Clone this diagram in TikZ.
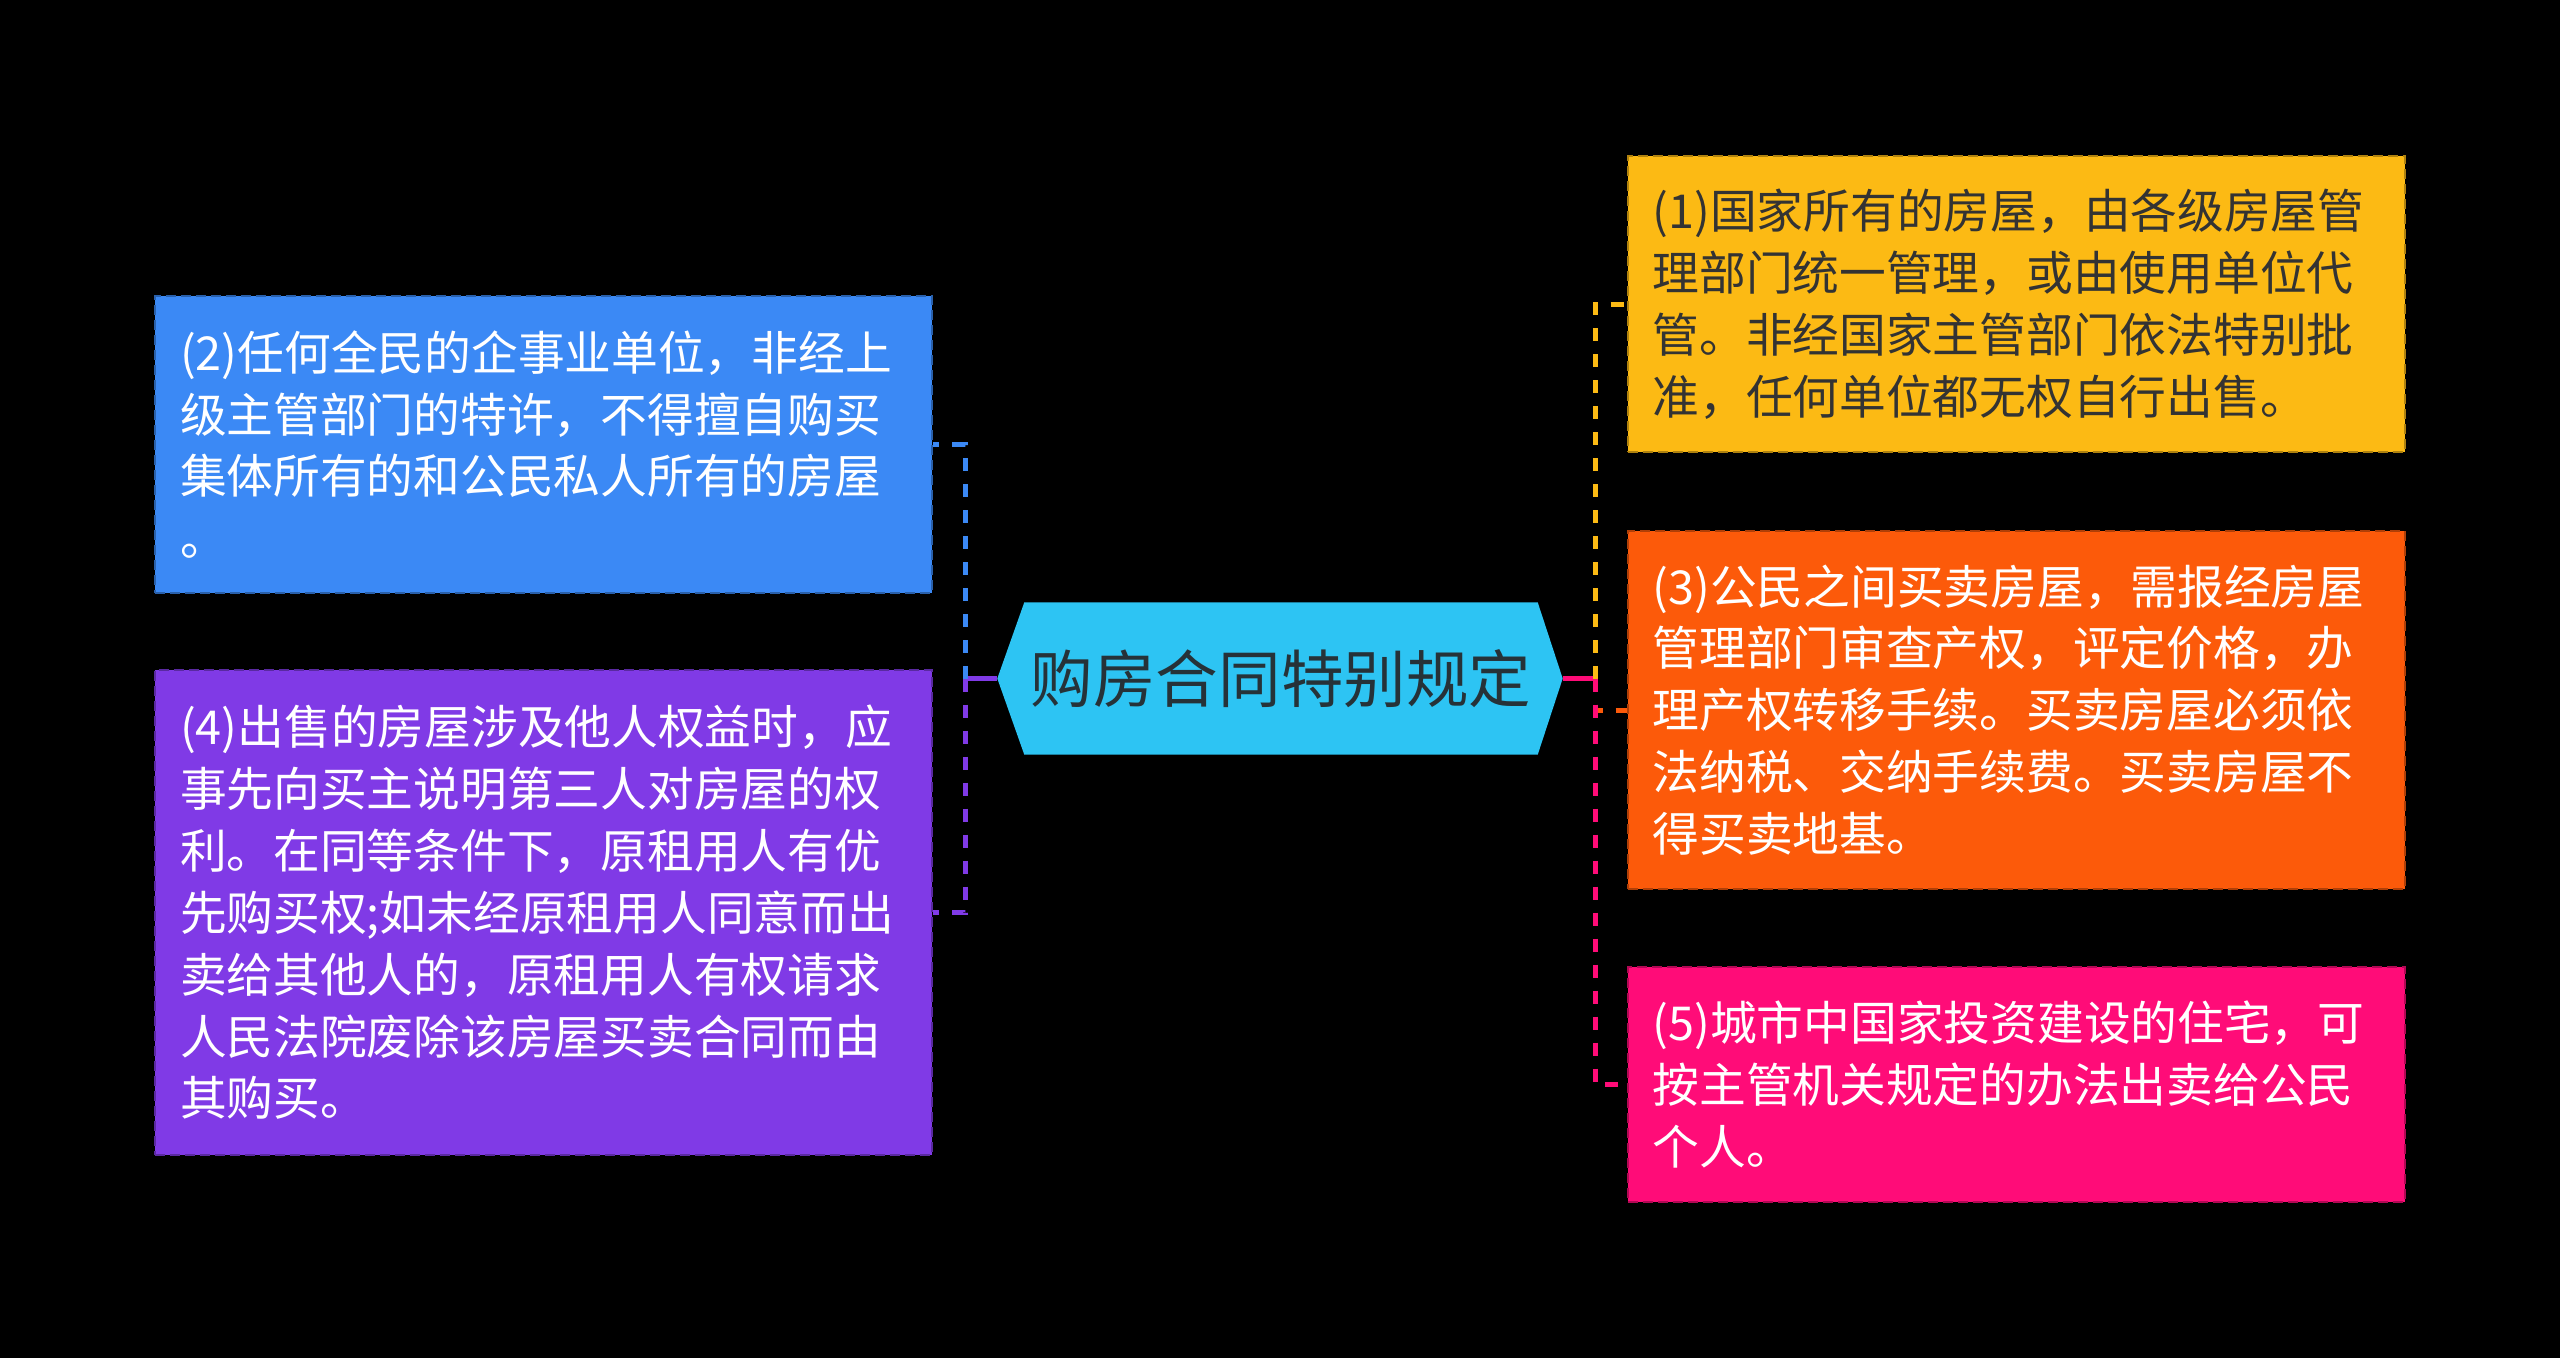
\documentclass[tikz,border=0pt]{standalone}
\usepackage{fontspec}
\setmainfont{Noto Sans CJK SC}
\usetikzlibrary{backgrounds}
\definecolor{rootfill}{HTML}{2DC4F3}
\definecolor{roottext}{HTML}{263238}
\definecolor{leafyellow}{HTML}{FCBA14}
\definecolor{leaforange}{HTML}{FC5A0A}
\definecolor{leafpink}{HTML}{FF0C78}
\definecolor{leafblue}{HTML}{3B89F5}
\definecolor{leafpurple}{HTML}{803AE6}
\definecolor{darktext}{HTML}{333333}
\begin{document}
\begin{tikzpicture}[x=0.1mm, y=-0.1mm,
        leaf/.style={rectangle, fill=#1, draw=#1!70!black, line width=0.2mm,
            dash pattern=on 1mm off 0.5mm, text=white, text width=72.7mm,
            inner xsep=2.5mm, inner ysep=0pt, align=left,
            font=\fontsize{13.3}{17.6}\selectfont},
        link/.style={#1, line width=0.5mm, dash pattern=on 1.3mm off 1.3mm},
        stem/.style={#1, line width=0.5mm}]
    \node[minimum width=51.2mm, minimum height=15.1mm, inner sep=0pt, text=roottext,
        font=\fontsize{17.8}{20}\selectfont] (root) at (1281,678.5) {购房合同特别规定};
    \begin{scope}[on background layer]
        \fill[black] (0,0) rectangle (2560,1358);
        \fill[rootfill] (root.north west) -- (root.north east) -- ([xshift=2.5mm]root.east)
            -- (root.south east) -- (root.south west) -- ([xshift=-2.7mm]root.west) -- cycle;
    \end{scope}
    \node[leaf=leafyellow, text=darktext, minimum height=29.6mm] (n1) at (2016,304)
        {(1)国家所有的房屋，由各级房屋管\\理部门统一管理，或由使用单位代\\管。非经国家主管部门依法特别批\\准，任何单位都无权自行出售。};
    \node[leaf=leaforange, minimum height=35.8mm] (n3) at (2016,710)
        {(3)公民之间买卖房屋，需报经房屋\\管理部门审查产权，评定价格，办\\理产权转移手续。买卖房屋必须依\\法纳税、交纳手续费。买卖房屋不\\得买卖地基。};
    \node[leaf=leafpink, minimum height=23.5mm] (n5) at (2016,1084.5)
        {(5)城市中国家投资建设的住宅，可\\按主管机关规定的办法出卖给公民\\个人。};
    \node[leaf=leafblue, minimum height=29.7mm] (n2) at (543.5,444.5)
        {(2)任何全民的企事业单位，非经上\\级主管部门的特许，不得擅自购买\\集体所有的和公民私人所有的房屋\\。};
    \node[leaf=leafpurple, minimum height=48.5mm] (n4) at (543.5,912.5)
        {(4)出售的房屋涉及他人权益时，应\\事先向买主说明第三人对房屋的权\\利。在同等条件下，原租用人有优\\先购买权;如未经原租用人同意而出\\卖给其他人的，原租用人有权请求\\人民法院废除该房屋买卖合同而由\\其购买。};
    \coordinate (jl) at (965,678.5);
    \coordinate (jr) at (1595,678.5);
    \draw[stem=leafpurple] ([xshift=-2.7mm]root.west) -- (jl);
    \draw[link=leafblue] (jl) |- (n2.east);
    \draw[link=leafpurple] (jl) |- (n4.east);
    \draw[stem=leafpink] ([xshift=2.5mm]root.east) -- (jr);
    \foreach \n/\c in {n1/leafyellow, n3/leaforange, n5/leafpink}
        \draw[link=\c] (jr) |- (\n.west);
\end{tikzpicture}
\end{document}
